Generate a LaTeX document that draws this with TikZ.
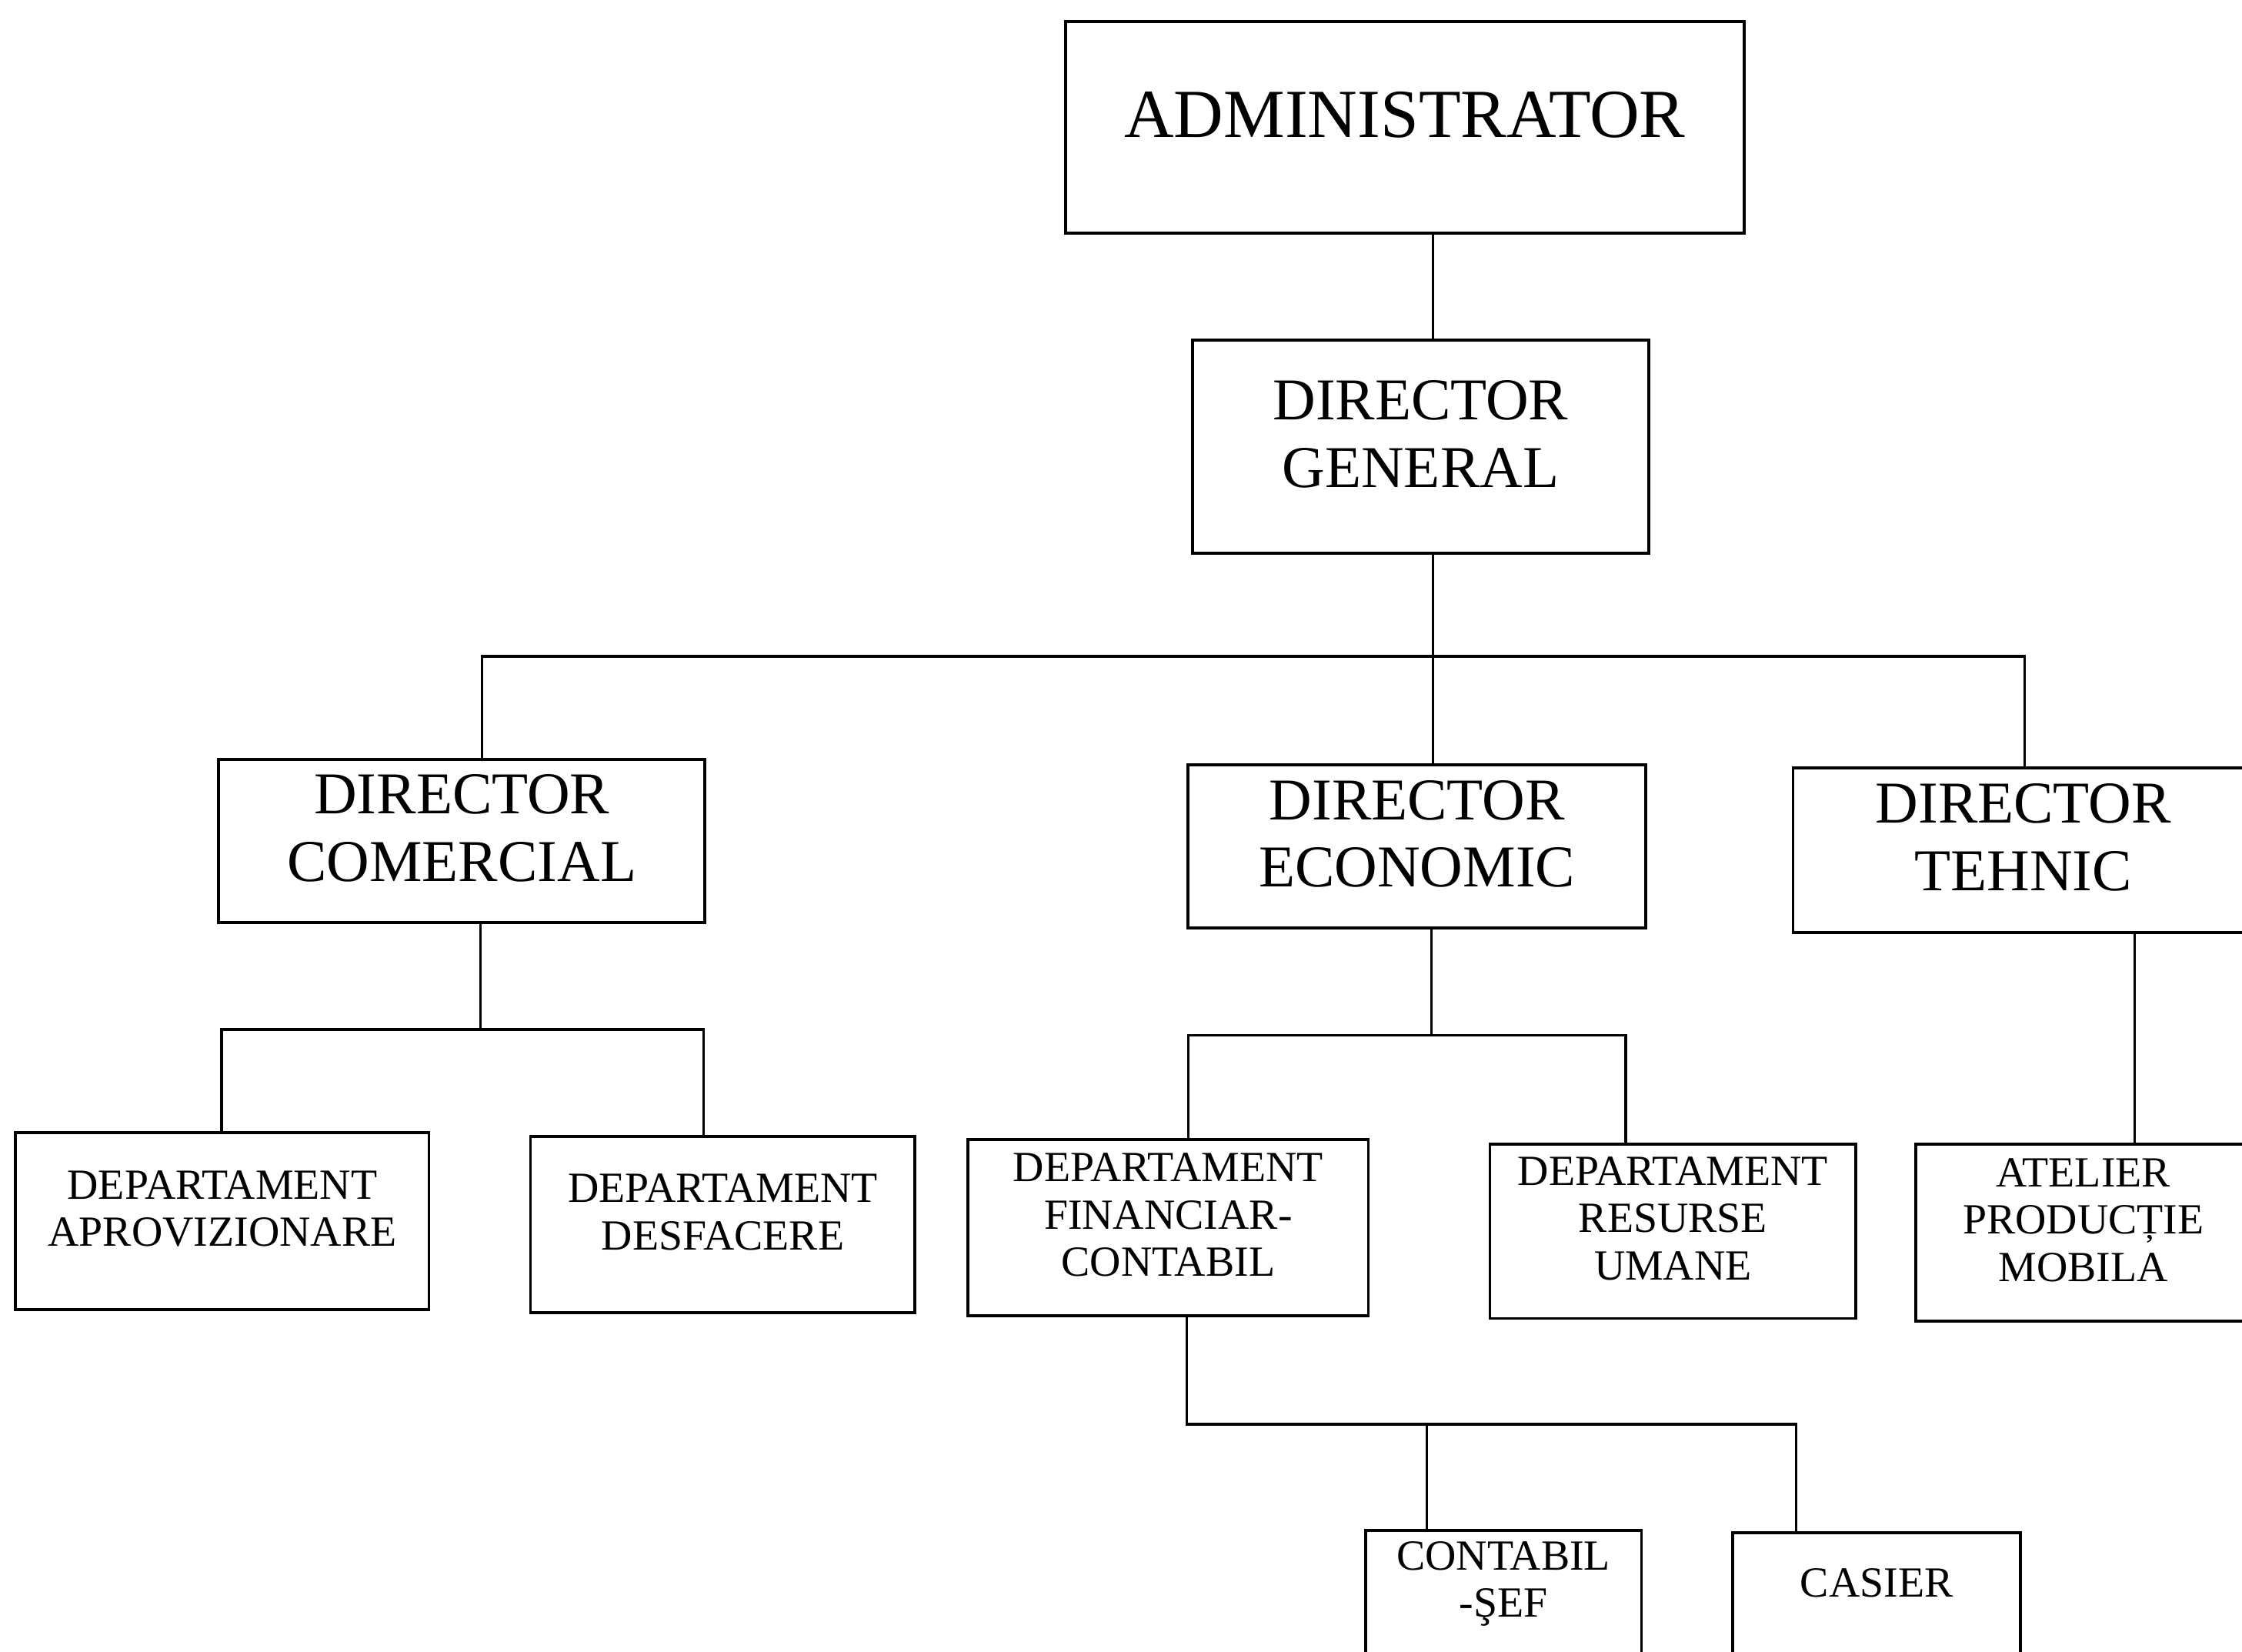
\documentclass[tikz,border=0pt]{standalone}
\usepackage{fontspec}
\setmainfont{Liberation Serif}

\begin{document}
\begin{tikzpicture}[
            box/.style={
                rectangle,
                draw=black,
                line width=0.6pt,
                inner sep=0pt,
                text depth=0.18cm,
                align=center
            },
            top/.style={
                box,
                font=\fontsize{13.7}{16}\selectfont
            },
            chief/.style={
                box,
                font=\fontsize{11.8}{13.4}\selectfont
            },
            dept/.style={
                box,
                font=\fontsize{8.55}{9.4}\selectfont
            },
            link/.style={line width=0.5pt}
        ]

        % Page frame
        \useasboundingbox (0,0) rectangle (15.68,-11.55);
        \clip (0,0) rectangle (15.68,-11.55);

        % Top of the chart
        \node[top, minimum width=4.75cm, minimum height=1.48cm] (adm) at (9.825,-0.89) {ADMINISTRATOR};
        \node[chief, minimum width=3.19cm, minimum height=1.49cm] (dg) at (9.935,-3.125) {DIRECTOR\\GENERAL};

        % Directors
        \node[chief, minimum width=3.40cm, minimum height=1.14cm] (dc) at (3.23,-5.88) {DIRECTOR\\COMERCIAL};
        \node[chief, minimum width=3.20cm, minimum height=1.14cm] (de) at (9.91,-5.92) {DIRECTOR\\ECONOMIC};
        \node[chief, minimum width=3.22cm, minimum height=1.15cm] (dt) at (14.15,-5.945) {DIRECTOR\\TEHNIC};

        % Departments
        \node[dept, minimum width=2.89cm, minimum height=1.24cm] (da) at (1.555,-8.54) {DEPARTAMENT\\APROVIZIONARE};
        \node[dept, minimum width=2.69cm, minimum height=1.23cm] (dd) at (5.055,-8.565) {DEPARTAMENT\\DESFACERE};
        \node[dept, minimum width=2.80cm, minimum height=1.23cm] (dfc) at (8.17,-8.585) {DEPARTAMENT\\FINANCIAR-\\CONTABIL};
        \node[dept, minimum width=2.56cm, minimum height=1.22cm] (dru) at (11.70,-8.61) {DEPARTAMENT\\RESURSE\\UMANE};
        \node[dept, minimum width=2.34cm, minimum height=1.24cm] (apm) at (14.57,-8.62) {ATELIER\\PRODUCȚIE\\MOBILA};

        % Accounting boxes (run off the page)
        \node[dept, anchor=north, minimum width=1.93cm, inner ysep=0.08cm, text height=0.53cm, text depth=1cm] (cs) at (10.515,-10.69) {CONTABIL\\-ŞEF};
        \node[dept, anchor=north, minimum width=2.01cm, inner ysep=0.08cm, text height=0.37cm, text depth=1cm] (cas) at (13.125,-10.71) {CASIER};

        % Junctions
        \coordinate (gbus) at (10.02,-4.59);
        \coordinate (gl) at (3.37,-4.59);
        \coordinate (gr) at (14.16,-4.59);
        \coordinate (cbus) at (3.36,-7.20);
        \coordinate (cl) at (1.55,-7.20);
        \coordinate (cr) at (4.92,-7.20);
        \coordinate (ebus) at (10.01,-7.24);
        \coordinate (el) at (8.31,-7.24);
        \coordinate (er) at (11.37,-7.24);
        \coordinate (tbus) at (14.93,-7.30);
        \coordinate (fl) at (8.30,-9.96);
        \coordinate (fm) at (9.98,-9.96);
        \coordinate (fr) at (12.56,-9.96);

        % Connecting lines
        \draw[link] (adm.south -| gbus) -- (dg.north -| gbus);
        \draw[link] (dg.south -| gbus) -- (de.north -| gbus);
        \draw[link] (dc.north -| gl) -- (gl) -- (gr) -- (dt.north -| gr);

        \draw[link] (dc.south -| cbus) -- (cbus);
        \draw[link] (da.north -| cl) -- (cl) -- (cr) -- (dd.north -| cr);

        \draw[link] (de.south -| ebus) -- (ebus);
        \draw[link] (dfc.north -| el) -- (el) -- (er) -- (dru.north -| er);

        \draw[link] (dt.south -| tbus) -- (apm.north -| tbus);

        \draw[link] (dfc.south -| fl) -- (fl) -- (fr) -- (cas.north -| fr);
        \draw[link] (fm) -- (cs.north -| fm);

        \end{tikzpicture}
\end{document}
